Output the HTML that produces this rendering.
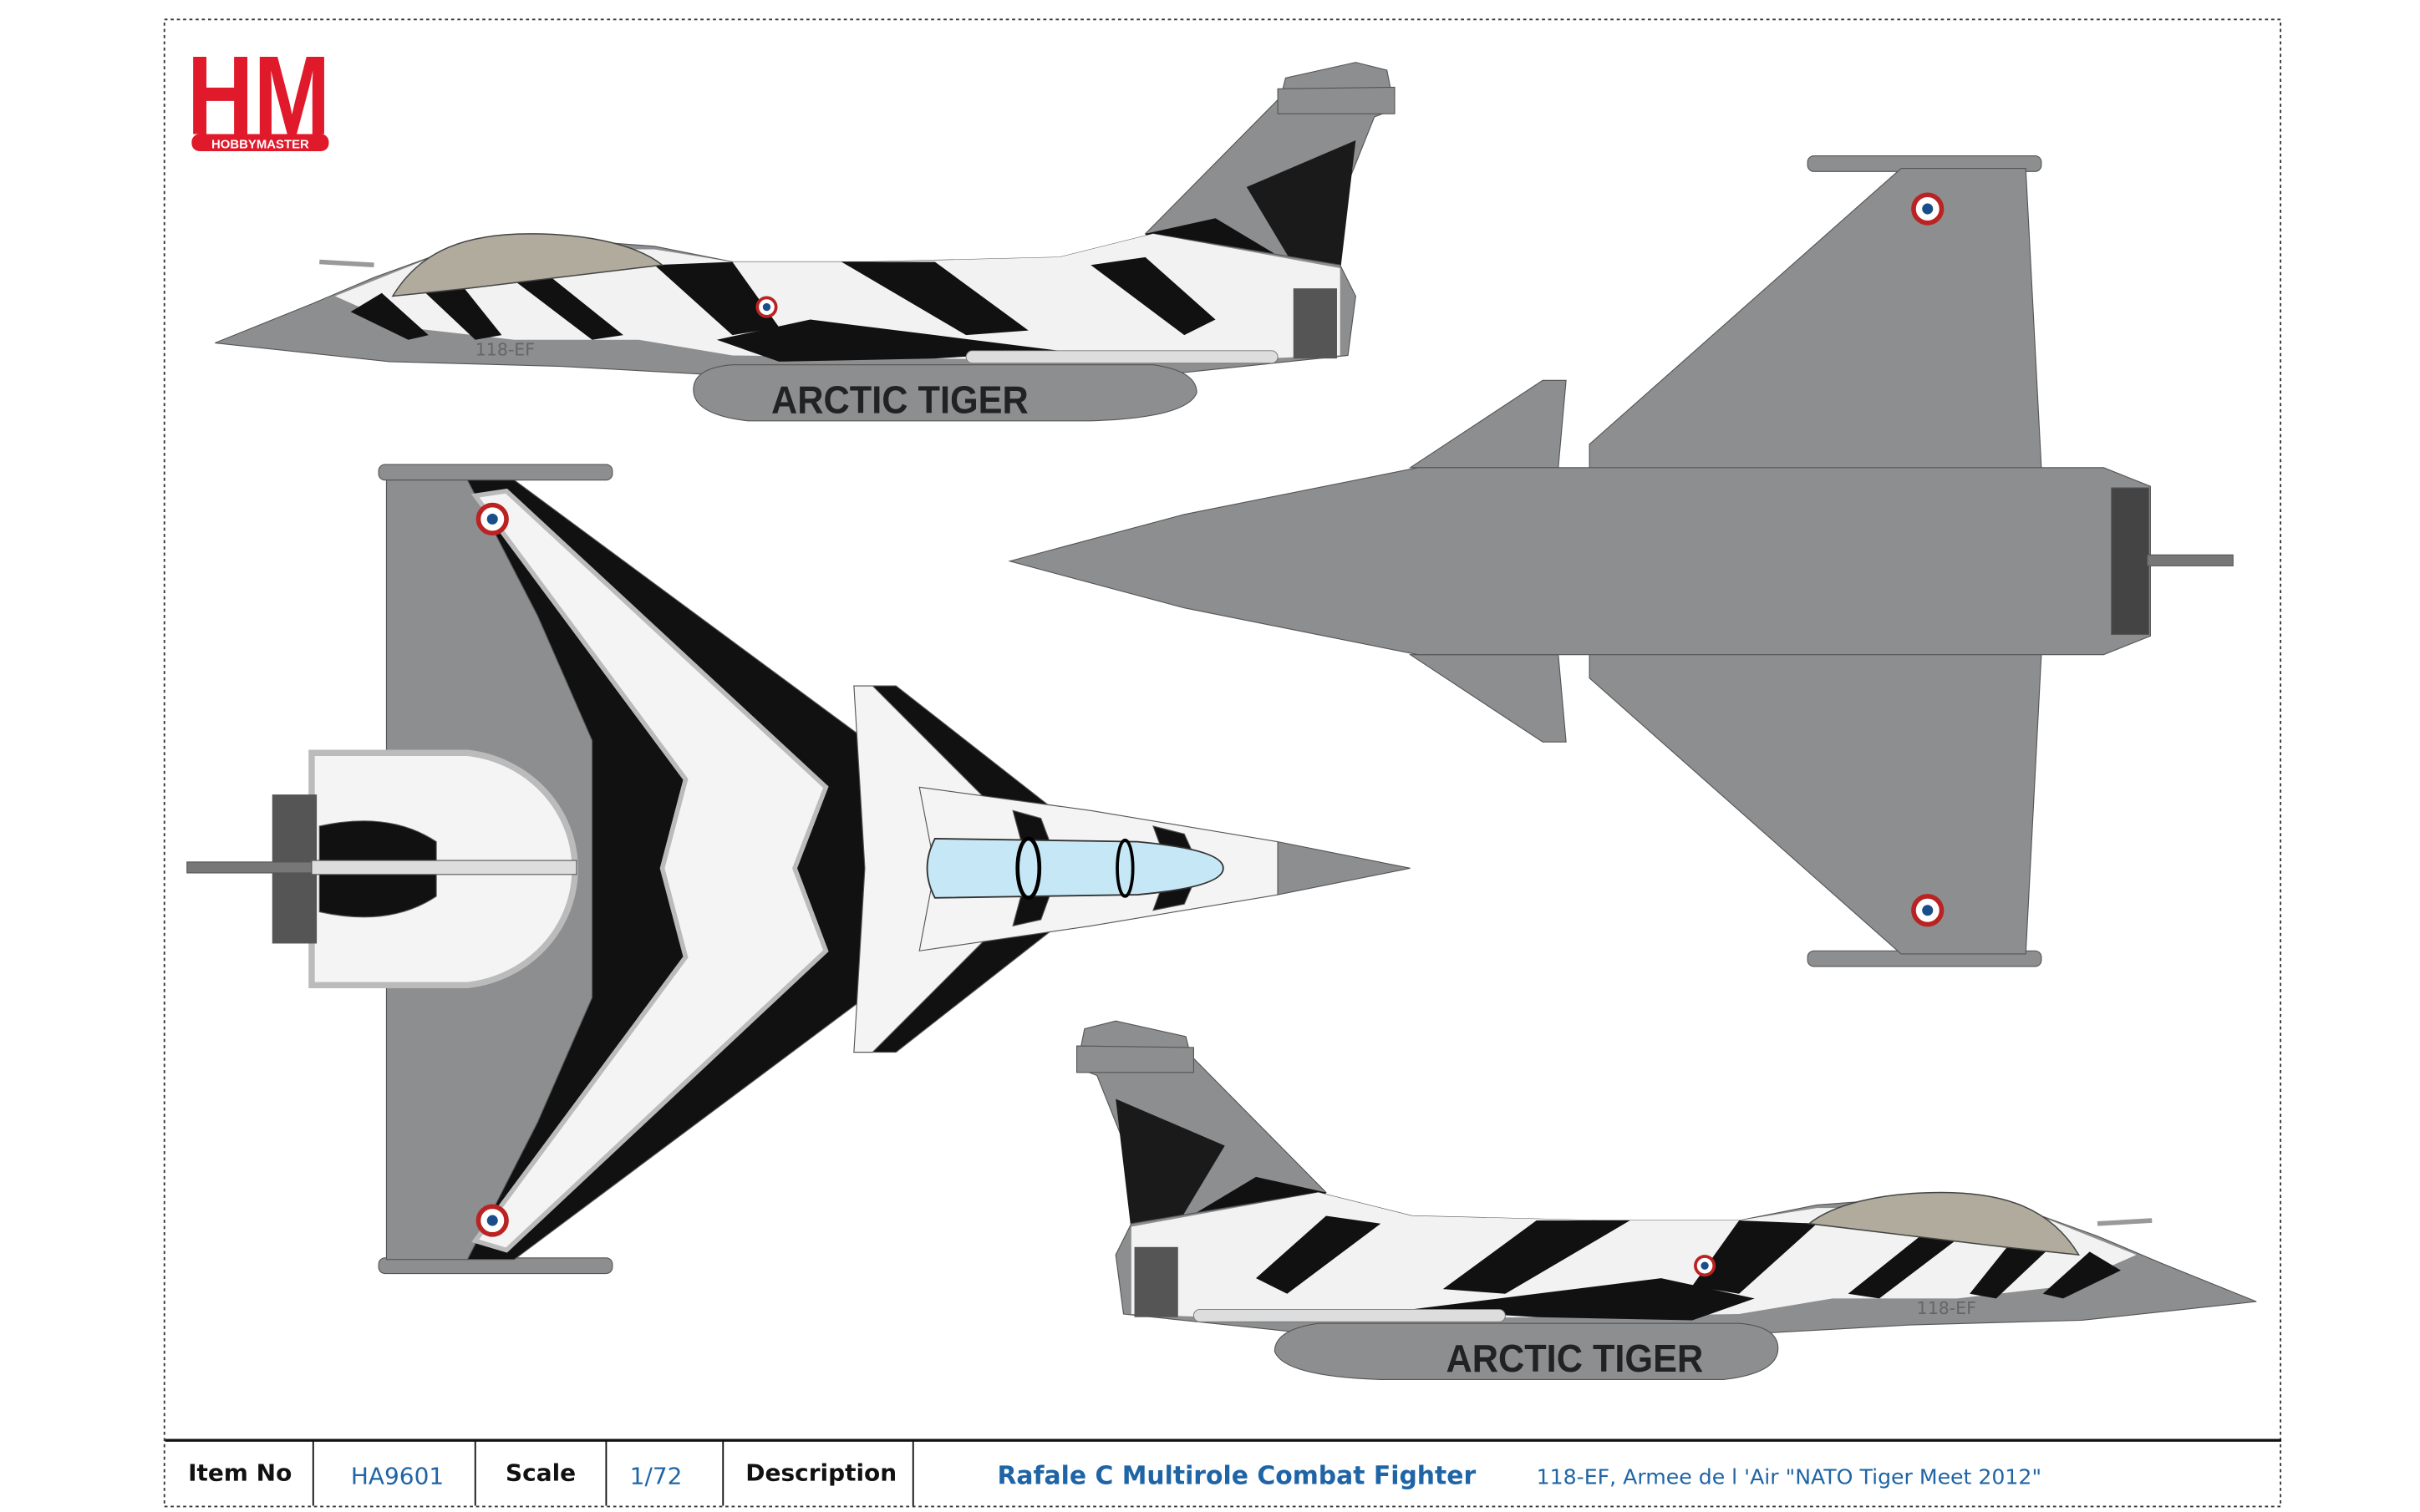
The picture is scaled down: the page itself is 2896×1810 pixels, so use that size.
<!DOCTYPE html>
<html><head><meta charset="utf-8"><style>
html,body{margin:0;padding:0;background:#fff;}
svg{display:block}
</style></head><body>
<svg width="2896" height="1810" viewBox="0 0 1553 970" preserveAspectRatio="none" xmlns="http://www.w3.org/2000/svg" font-family="'DejaVu Sans','Liberation Sans',sans-serif">
<defs>
<g id="side">
  <polygon points="735,150 822,62 825,50 870,40 890,45 895,70 882,75 840,180 760,175" fill="#8c8e8f" stroke="#555" stroke-width="0.6"/>
  <polygon points="820,57 895,56 895,73 820,73" fill="#8c8e8f" stroke="#555" stroke-width="0.6"/>
  <polygon points="735,150 780,140 830,170 845,185 760,182" fill="#111"/>
  <polygon points="800,120 870,90 860,175 830,170" fill="#1a1a1a"/>
  <polygon points="138,220 200,195 240,178 290,160 340,152 420,158 470,168 560,168 680,165 740,150 860,170 870,190 865,228 750,240 600,245 450,240 360,235 250,232" fill="#8c8e8f" stroke="#555" stroke-width="0.6"/>
  <polygon points="215,190 290,160 420,160 470,168 560,168 680,165 740,150 860,172 860,228 760,232 600,230 470,228 410,218 330,218 260,210" fill="#f2f2f2"/>
  <polygon points="225,200 245,188 275,215 262,218" fill="#111"/>
  <polygon points="270,185 290,175 322,215 305,218" fill="#111"/>
  <polygon points="330,180 350,175 400,215 380,218" fill="#111"/>
  <polygon points="420,170 470,168 500,210 470,215" fill="#111"/>
  <polygon points="540,168 600,168 660,212 620,215" fill="#111"/>
  <polygon points="460,218 520,205 600,215 680,225 600,230 500,232" fill="#111"/>
  <polygon points="700,170 735,165 780,205 760,215" fill="#111"/>
  <path d="M252,190 C270,160 300,150 340,150 C380,150 410,158 425,170 L300,185 Z" fill="#b0ab9c" stroke="#444" stroke-width="0.8"/>
  <line x1="205" y1="168" x2="240" y2="170" stroke="#999" stroke-width="3"/>
  <rect x="830" y="185" width="28" height="45" fill="#555"/>
  <rect x="620" y="225" width="200" height="8" rx="4" fill="#ddd" stroke="#777" stroke-width="0.5"/>
  <path d="M445,250 Q445,236 470,234 L740,234 Q768,238 768,252 Q762,268 700,270 L480,270 Q445,266 445,250 Z" fill="#8c8e8f" stroke="#555" stroke-width="0.6"/>
  <circle cx="492" cy="197" r="6" fill="#fff" stroke="#b22" stroke-width="2"/>
  <circle cx="492" cy="197" r="2.5" fill="#1a4e8a"/>
</g>
</defs>

<rect x="105.5" y="12.5" width="1358" height="954" fill="none" stroke="#333" stroke-width="1" stroke-dasharray="2,2"/>

<text x="120" y="86" font-family="'Liberation Sans',sans-serif" font-weight="bold" font-size="72" fill="#e0192b" textLength="92" lengthAdjust="spacingAndGlyphs">HM</text>
<rect x="123" y="86" width="88" height="11" rx="5" fill="#e0192b"/>
<text x="167" y="95" text-anchor="middle" font-family="'Liberation Sans',sans-serif" font-weight="bold" font-size="8" fill="#fff">HOBBYMASTER</text>

<use href="#side"/>
<text x="495" y="265" font-family="'Liberation Sans',sans-serif" font-weight="bold" font-size="25" fill="#222" textLength="165" lengthAdjust="spacingAndGlyphs">ARCTIC TIGER</text>
<text x="305" y="228" font-size="11" fill="#666">118-EF</text>

<use href="#side" transform="translate(1586,615) scale(-1,1)"/>
<text x="928" y="880" font-family="'Liberation Sans',sans-serif" font-weight="bold" font-size="25" fill="#222" textLength="165" lengthAdjust="spacingAndGlyphs">ARCTIC TIGER</text>
<text x="1230" y="843" font-size="11" fill="#666">118-EF</text>

<g stroke="#555" stroke-width="0.6" fill="#8c8e8f">
  <rect x="1160" y="100" width="150" height="10" rx="4"/>
  <rect x="1160" y="610" width="150" height="10" rx="4"/>
  <polygon points="1020,285 1220,108 1300,108 1310,300 1310,420 1300,612 1220,612 1020,435"/>
  <polygon points="905,300 990,244 1005,244 1000,300"/>
  <polygon points="905,420 990,476 1005,476 1000,420"/>
  <polygon points="648,360 760,330 910,300 1350,300 1380,312 1380,408 1350,420 910,420 760,390"/>
  <rect x="1355" y="313" width="24" height="94" fill="#444"/>
  <rect x="1378" y="356" width="55" height="7" fill="#777"/>
</g>
<circle cx="1237" cy="134" r="9" fill="#fff" stroke="#b22" stroke-width="3"/><circle cx="1237" cy="134" r="3.5" fill="#1a4e8a"/>
<circle cx="1237" cy="584" r="9" fill="#fff" stroke="#b22" stroke-width="3"/><circle cx="1237" cy="584" r="3.5" fill="#1a4e8a"/>

<g stroke="#555" stroke-width="0.6">
  <rect x="243" y="298" width="150" height="10" rx="4" fill="#8c8e8f"/>
  <rect x="243" y="807" width="150" height="10" rx="4" fill="#8c8e8f"/>
  <polygon points="248,308 300,308 590,505 590,610 300,808 248,808" fill="#8c8e8f"/>
  <!-- black main area -->
  <polygon points="300,308 330,308 590,500 595,557 590,614 330,808 300,808 345,720 380,640 380,475 345,395" fill="#111"/>
  <!-- white chevron band -->
  <polygon points="305,318 325,315 530,505 510,557 530,610 325,802 305,796 440,614 425,557 440,500" fill="#f4f4f4" stroke="#bbb" stroke-width="3"/>
  <!-- canards -->
  <polygon points="548,440 575,440 690,530 690,585 575,675 548,675 560,557" fill="#111"/>
  <polygon points="548,440 560,440 650,530 650,585 560,675 548,675 555,557" fill="#f4f4f4"/>
  <!-- forward fuselage -->
  <polygon points="590,505 700,520 820,540 820,574 700,594 590,610 600,557" fill="#f4f4f4"/>
  <polygon points="650,520 668,525 680,557 668,590 650,594 660,557" fill="#111"/>
  <polygon points="740,530 760,535 770,557 760,580 740,584 750,557" fill="#111"/>
  <!-- rear circle -->
  <path d="M200,483 L300,483 A78,75 0 0 1 300,632 L200,632 Z" fill="#f4f4f4" stroke="#bbb" stroke-width="4"/>
  <path d="M205,530 Q250,520 280,540 L280,575 Q250,595 205,585 Z" fill="#111"/>
  <polygon points="820,540 905,557 820,574" fill="#8c8e8f"/>
  <rect x="175" y="510" width="28" height="95" fill="#555"/>
  <rect x="120" y="553" width="80" height="7" fill="#777"/>
  <rect x="200" y="552" width="170" height="9" fill="#ddd"/>
  <path d="M600,538 L730,540 Q785,545 785,557 Q785,569 730,574 L600,576 Q590,557 600,538 Z" fill="#c6e8f6" stroke="#333" stroke-width="1"/>
  <ellipse cx="660" cy="557" rx="7" ry="19" fill="none" stroke="#000" stroke-width="2.5"/>
  <ellipse cx="722" cy="557" rx="5" ry="18" fill="none" stroke="#000" stroke-width="2"/>
</g>
<circle cx="316" cy="333" r="9" fill="#fff" stroke="#b22" stroke-width="3"/><circle cx="316" cy="333" r="3.5" fill="#1a4e8a"/>
<circle cx="316" cy="783" r="9" fill="#fff" stroke="#b22" stroke-width="3"/><circle cx="316" cy="783" r="3.5" fill="#1a4e8a"/>

<line x1="106" y1="924" x2="1464" y2="924" stroke="#111" stroke-width="1.8"/>
<g stroke="#111" stroke-width="1">
  <line x1="201" y1="924" x2="201" y2="966"/>
  <line x1="305" y1="924" x2="305" y2="966"/>
  <line x1="389" y1="924" x2="389" y2="966"/>
  <line x1="464" y1="924" x2="464" y2="966"/>
  <line x1="586" y1="924" x2="586" y2="966"/>
</g>
<g font-size="15">
  <text x="154" y="950" text-anchor="middle" font-weight="bold" fill="#111">Item No</text>
  <text x="255" y="952" text-anchor="middle" fill="#1f65a6">HA9601</text>
  <text x="347" y="950" text-anchor="middle" font-weight="bold" fill="#111">Scale</text>
  <text x="421" y="952" text-anchor="middle" fill="#1f65a6">1/72</text>
  <text x="527" y="950" text-anchor="middle" font-weight="bold" fill="#111">Description</text>
  <text x="640" y="952" font-weight="bold" fill="#1f65a6" font-size="16">Rafale C Multirole Combat Fighter</text>
  <text x="986" y="952" fill="#1f65a6" font-size="13.5">118-EF, Armee de l 'Air "NATO Tiger Meet 2012"</text>
</g>
</svg>
</body></html>
